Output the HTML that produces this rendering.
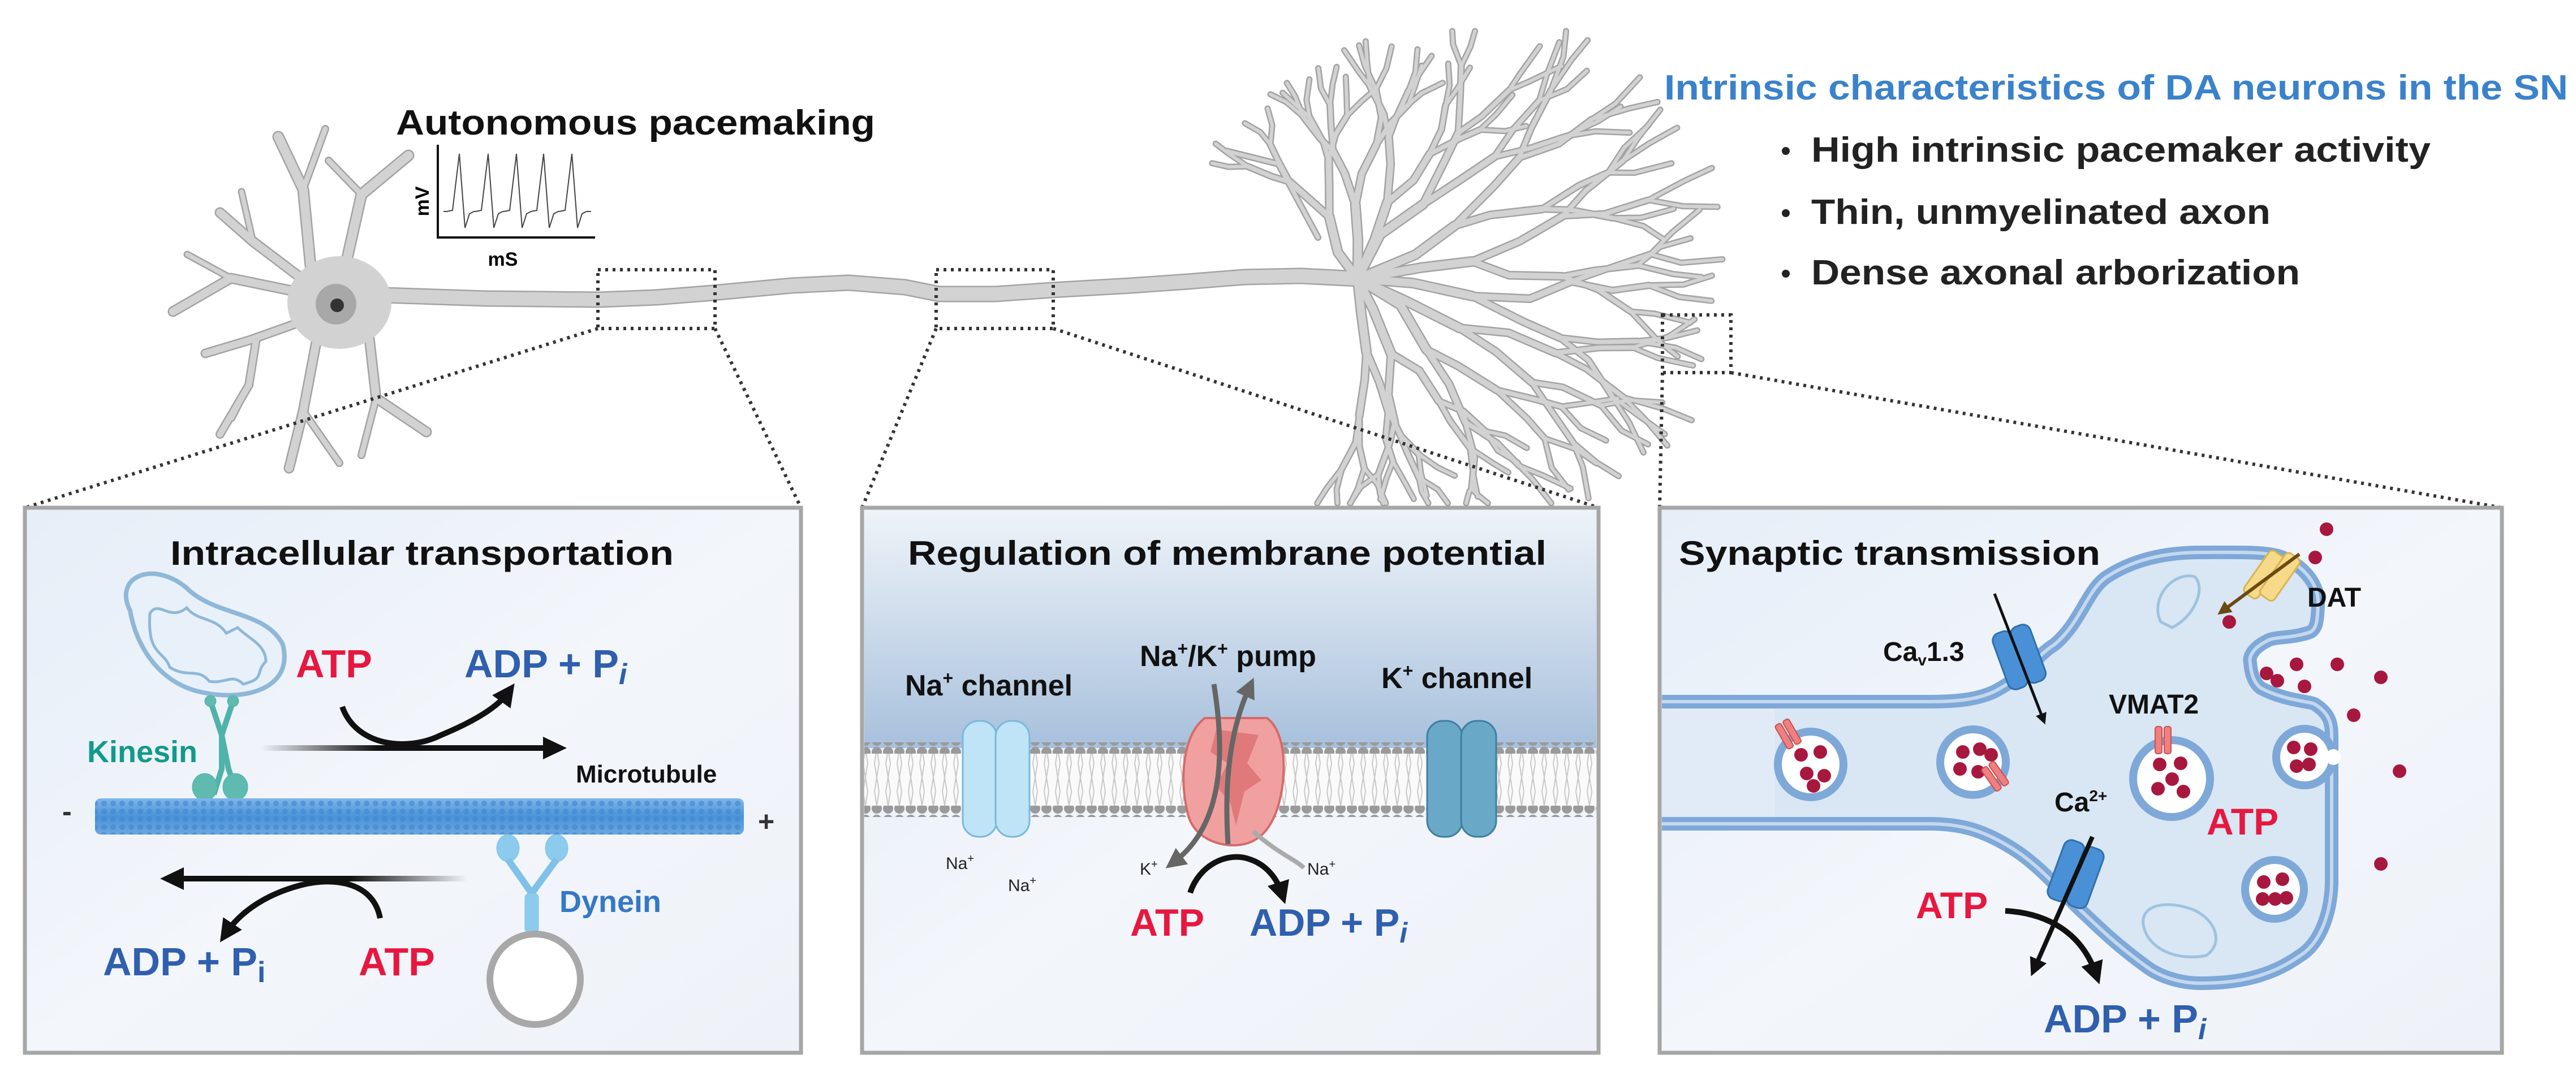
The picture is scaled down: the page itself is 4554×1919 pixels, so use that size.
<!DOCTYPE html>
<html><head><meta charset="utf-8"><style>
html,body{margin:0;padding:0;background:#fff;}
svg{display:block;}
text{font-family:"Liberation Sans",sans-serif;font-weight:bold;}
</style></head><body>
<svg id="s" xmlns="http://www.w3.org/2000/svg" width="4554" height="1919" viewBox="0 0 4554 1919">
<defs>
<linearGradient id="pbg" x1="0" y1="0" x2="1" y2="1"><stop offset="0" stop-color="#e6eef8"/><stop offset="0.5" stop-color="#f3f6fb"/><stop offset="1" stop-color="#eef2f8"/></linearGradient>
<linearGradient id="mtop" x1="0" y1="0" x2="0" y2="1"><stop offset="0" stop-color="#eef3f9"/><stop offset="0.35" stop-color="#d6e2ef"/><stop offset="1" stop-color="#a7c0dc"/></linearGradient>
<linearGradient id="mt" x1="0" y1="0" x2="0" y2="1"><stop offset="0" stop-color="#7fb6ea"/><stop offset="0.5" stop-color="#4b93d8"/><stop offset="1" stop-color="#6aa7e0"/></linearGradient>
<pattern id="mtp" width="16" height="14" patternUnits="userSpaceOnUse"><circle cx="8" cy="7" r="5" fill="#3f86cf" opacity="0.6"/></pattern>
<pattern id="heads" width="20" height="20" patternUnits="userSpaceOnUse"><circle cx="10" cy="10" r="9" fill="#9a9a9a"/></pattern>
<pattern id="tails" width="20" height="50" patternUnits="userSpaceOnUse"><path d="M6 0 L10 25 L6 50 M14 0 L10 25 L14 50" stroke="#c8c8c8" stroke-width="2" fill="none"/></pattern>
<marker id="ah" viewBox="0 0 10 10" refX="5" refY="5" markerWidth="4" markerHeight="4" orient="auto"><path d="M0 0 L10 5 L0 10 z" fill="#111"/></marker>
<marker id="ahg" viewBox="0 0 10 10" refX="5" refY="5" markerWidth="4" markerHeight="4" orient="auto"><path d="M0 0 L10 5 L0 10 z" fill="#666"/></marker>
<marker id="ahb" viewBox="0 0 10 10" refX="5" refY="5" markerWidth="4" markerHeight="4" orient="auto"><path d="M0 0 L10 5 L0 10 z" fill="#6b4a10"/></marker>
<linearGradient id="fadeR" gradientUnits="userSpaceOnUse" x1="461" y1="0" x2="975" y2="0"><stop offset="0" stop-color="#111" stop-opacity="0"/><stop offset="0.4" stop-color="#111"/></linearGradient>
<linearGradient id="fadeL" gradientUnits="userSpaceOnUse" x1="826" y1="0" x2="310" y2="0"><stop offset="0" stop-color="#111" stop-opacity="0"/><stop offset="0.4" stop-color="#111"/></linearGradient>
</defs>

<g id="neuOut" fill="none" stroke="#a3a3a3" stroke-linecap="round" stroke-linejoin="round"></g>
<g id="neuIn" fill="none" stroke="#d2d2d2" stroke-linecap="round" stroke-linejoin="round"></g>
<ellipse cx="600" cy="535" rx="92" ry="82" fill="#d2d2d2"/>
<ellipse cx="594" cy="538" rx="36" ry="36" fill="#a8a8a8"/>
<circle cx="596" cy="540" r="12" fill="#333"/>

<g stroke="#111" fill="none">
<path d="M774 256 L774 420 L1052 420" stroke-width="4"/>
<path id="tr" stroke-width="2" stroke="#444" d=""/>
</g>
<text x="0" y="0" font-size="34" transform="translate(758,356) rotate(-90)" text-anchor="middle">mV</text>
<text x="889" y="470" font-size="34" text-anchor="middle">mS</text>
<text x="700" y="238" font-size="62" textLength="847" lengthAdjust="spacingAndGlyphs" fill="#111">Autonomous pacemaking</text>

<text x="2942" y="176" font-size="62" fill="#3a82cc" textLength="1598" lengthAdjust="spacingAndGlyphs">Intrinsic characteristics of DA neurons in the SN</text>
<g fill="#222" font-size="62">
<circle cx="3157" cy="267" r="7" fill="#222"/><text x="3202" y="286" textLength="1095" lengthAdjust="spacingAndGlyphs">High intrinsic pacemaker activity</text>
<circle cx="3157" cy="377" r="7" fill="#222"/><text x="3202" y="396" textLength="812" lengthAdjust="spacingAndGlyphs">Thin, unmyelinated axon</text>
<circle cx="3157" cy="484" r="7" fill="#222"/><text x="3202" y="503" textLength="864" lengthAdjust="spacingAndGlyphs">Dense axonal arborization</text>
</g>

<g fill="none" stroke="#333" stroke-width="6" stroke-dasharray="5 8">
<rect x="1057" y="477" width="207" height="104"/>
<rect x="1655" y="477" width="207" height="104"/>
<rect x="2939" y="557" width="121" height="102"/>
<path d="M1057 581 L44 898 M1264 581 L1416 898 M1655 581 L1524 898 M1862 581 L2826 898 M2939 659 L2934 898 M3060 659 L4423 898"/>
</g>

<rect x="44" y="898" width="1372" height="964" fill="url(#pbg)" stroke="#a6a6a6" stroke-width="7"/>
<rect x="1524" y="898" width="1302" height="964" fill="url(#pbg)" stroke="#a6a6a6" stroke-width="7"/>
<rect x="2934" y="898" width="1489" height="964" fill="url(#pbg)" stroke="#a6a6a6" stroke-width="7"/>

<!-- LEFT PANEL -->
<text x="301" y="999" font-size="60" fill="#111" textLength="890" lengthAdjust="spacingAndGlyphs">Intracellular transportation</text>
<path d="M230 1080 C200 1020 270 990 330 1040 C380 1090 470 1080 500 1140 C520 1220 430 1240 360 1225 C280 1210 240 1140 230 1080 Z" fill="#e8f1fa" stroke="#8fb8d8" stroke-width="8"/>
<path d="M265 1085 C280 1060 300 1100 330 1075 C350 1100 380 1090 400 1120 L420 1110 C440 1130 470 1140 470 1170 C450 1190 470 1200 430 1210 C410 1190 400 1210 370 1205 C350 1180 330 1200 300 1180 C290 1150 260 1160 265 1085 Z" fill="none" stroke="#8fb8d8" stroke-width="5"/>
<g stroke="#4fb3a9" fill="#5fbab0">
<path d="M372 1240 L392 1300 L392 1360 L378 1405 M412 1240 L392 1300 L404 1360 L420 1405" stroke-width="10" fill="none"/>
<circle cx="372" cy="1240" r="10"/><circle cx="412" cy="1240" r="10"/>
<ellipse cx="362" cy="1392" rx="22" ry="24"/><ellipse cx="416" cy="1392" rx="22" ry="24"/>
</g>
<text x="154" y="1348" font-size="54" fill="#129a8c">Kinesin</text>
<text x="523" y="1198" font-size="70" fill="#e8173f">ATP</text>
<text x="821" y="1198" font-size="70" fill="#2f5fae">ADP + P<tspan font-size="52" font-style="italic" dy="12">i</tspan></text>
<path d="M461 1323 L975 1323" stroke="url(#fadeR)" stroke-width="10" fill="none"/>
<path d="M960 1303 L1002 1323 L960 1343 Z" fill="#111"/>
<path d="M605 1250 C630 1320 720 1330 780 1300 C840 1275 880 1250 898 1225" stroke="#111" stroke-width="10" fill="none" marker-end="url(#ah)"/>
<text x="1018" y="1384" font-size="44" fill="#111">Microtubule</text>
<rect x="168" y="1412" width="1147" height="64" rx="10" fill="url(#mt)"/>
<rect x="168" y="1412" width="1147" height="64" rx="10" fill="url(#mtp)"/>
<text x="110" y="1452" font-size="50" fill="#333">-</text>
<text x="1340" y="1470" font-size="50" fill="#333">+</text>
<g stroke="#7fc1e8" fill="#8ccbee">
<ellipse cx="898" cy="1500" rx="20" ry="24"/><ellipse cx="984" cy="1500" rx="20" ry="24"/>
<path d="M898 1520 L940 1580 L984 1520 M940 1580 L940 1650" stroke-width="12" fill="none"/>
<rect x="928" y="1580" width="24" height="70" rx="8"/>
</g>
<circle cx="946" cy="1732" r="80" fill="#fff" stroke="#a8a8a8" stroke-width="12"/>
<text x="989" y="1613" font-size="54" fill="#3478c6">Dynein</text>
<path d="M826 1554 L320 1554" stroke="url(#fadeL)" stroke-width="10" fill="none"/>
<path d="M325 1534 L283 1554 L325 1574 Z" fill="#111"/>
<path d="M672 1624 C660 1560 590 1550 530 1566 C460 1585 420 1620 400 1650" stroke="#111" stroke-width="10" fill="none" marker-end="url(#ah)"/>
<text x="182" y="1725" font-size="70" fill="#2f5fae">ADP + P<tspan font-size="52" dy="12">i</tspan></text>
<text x="634" y="1725" font-size="70" fill="#e8173f">ATP</text>

<!-- MIDDLE PANEL -->
<rect x="1528" y="902" width="1294" height="421" fill="url(#mtop)"/>
<text x="1605" y="999" font-size="60" fill="#111" textLength="1129" lengthAdjust="spacingAndGlyphs">Regulation of membrane potential</text>
<rect x="1528" y="1333" width="1294" height="92" fill="#fafafa"/>
<rect x="1528" y="1333" width="1294" height="92" fill="url(#tails)"/>
<rect x="1528" y="1313" width="1294" height="20" fill="url(#heads)"/>
<rect x="1528" y="1425" width="1294" height="20" fill="url(#heads)"/>
<g stroke="#7ab8dc" stroke-width="3" fill="#bfe3f7">
<rect x="1702" y="1275" width="60" height="205" rx="28"/><rect x="1760" y="1275" width="60" height="205" rx="28"/>
</g>
<g stroke="#3d7f9f" stroke-width="3" fill="#6aa8c8">
<rect x="2523" y="1275" width="62" height="205" rx="28"/><rect x="2583" y="1275" width="62" height="205" rx="28"/>
</g>
<path d="M2130 1270 L2240 1270 C2280 1300 2275 1400 2250 1450 C2230 1490 2200 1495 2180 1495 C2150 1495 2110 1480 2100 1440 C2085 1380 2090 1300 2130 1270 Z" fill="#f1a0a0" stroke="#d46a6a" stroke-width="4"/>
<path d="M2150 1290 L2140 1330 L2170 1350 L2150 1390 L2175 1420 L2185 1460 L2200 1400 L2230 1380 L2205 1350 L2225 1300 Z" fill="#e07a7a"/>
<path d="M2171 1493 C2165 1400 2170 1300 2209 1215" stroke="#666" stroke-width="9" fill="none" marker-end="url(#ahg)"/>
<path d="M2146 1210 C2160 1300 2175 1450 2075 1525" stroke="#666" stroke-width="9" fill="none" marker-end="url(#ahg)"/>
<path d="M2215 1470 C2260 1510 2290 1520 2305 1535" stroke="#aaa" stroke-width="8" fill="none"/>
<path d="M2104 1579 C2120 1530 2170 1505 2210 1520 C2240 1530 2258 1555 2266 1580" stroke="#111" stroke-width="10" fill="none" marker-end="url(#ah)"/>
<text x="1600" y="1230" font-size="52" fill="#111">Na<tspan font-size="32" dy="-20">+</tspan><tspan dy="20"> channel</tspan></text>
<text x="2015" y="1178" font-size="52" fill="#111">Na<tspan font-size="32" dy="-20">+</tspan><tspan dy="20">/K</tspan><tspan font-size="32" dy="-20">+</tspan><tspan dy="20"> pump</tspan></text>
<text x="2442" y="1217" font-size="52" fill="#111">K<tspan font-size="32" dy="-20">+</tspan><tspan dy="20"> channel</tspan></text>
<g font-size="30" fill="#222">
<text x="1672" y="1537" style="font-weight:normal">Na<tspan font-size="20" dy="-12">+</tspan></text>
<text x="1782" y="1576" style="font-weight:normal">Na<tspan font-size="20" dy="-12">+</tspan></text>
<text x="2015" y="1547" style="font-weight:normal">K<tspan font-size="20" dy="-12">+</tspan></text>
<text x="2311" y="1547" style="font-weight:normal">Na<tspan font-size="20" dy="-12">+</tspan></text>
</g>
<text x="1998" y="1655" font-size="68" fill="#e8173f">ATP</text>
<text x="2209" y="1655" font-size="68" fill="#2f5fae">ADP + P<tspan font-size="50" font-style="italic" dy="12">i</tspan></text>

<!-- RIGHT PANEL -->
<text x="2968" y="999" font-size="60" fill="#111" textLength="745" lengthAdjust="spacingAndGlyphs">Synaptic transmission</text>
<path d="M2938 1241 L3411 1241 C3470 1241 3500 1235 3526 1223 C3580 1195 3600 1160 3632 1140 C3680 1100 3690 1040 3728 1018 C3780 985 3840 977 3891 977 C3960 977 4010 975 4036 986 C4080 1005 4100 1040 4098 1069 C4097 1100 4095 1112 4084 1118 C4050 1130 4020 1125 4007 1134 C3985 1145 3975 1160 3978 1172 C3980 1200 3990 1212 3997 1217 C4040 1240 4085 1240 4093 1246 C4115 1260 4122 1275 4122 1300 L4122 1563 C4120 1620 4100 1670 4065 1691 C4010 1730 3950 1739 3891 1739 C3850 1739 3815 1725 3795 1710 C3740 1670 3710 1640 3670 1602 C3620 1550 3590 1520 3555 1499 C3500 1465 3460 1457 3411 1457 L2938 1457" fill="#d9e6f4" stroke="#7ea8d8" stroke-width="24"/>
<path d="M2938 1241 L3411 1241 C3470 1241 3500 1235 3526 1223 C3580 1195 3600 1160 3632 1140 C3680 1100 3690 1040 3728 1018 C3780 985 3840 977 3891 977 C3960 977 4010 975 4036 986 C4080 1005 4100 1040 4098 1069 C4097 1100 4095 1112 4084 1118 C4050 1130 4020 1125 4007 1134 C3985 1145 3975 1160 3978 1172 C3980 1200 3990 1212 3997 1217 C4040 1240 4085 1240 4093 1246 C4115 1260 4122 1275 4122 1300 L4122 1563 C4120 1620 4100 1670 4065 1691 C4010 1730 3950 1739 3891 1739 C3850 1739 3815 1725 3795 1710 C3740 1670 3710 1640 3670 1602 C3620 1550 3590 1520 3555 1499 C3500 1465 3460 1457 3411 1457 L2938 1457" fill="none" stroke="#c4d8ee" stroke-width="6"/>
<rect x="2938" y="1254" width="200" height="190" fill="#e6eef8" opacity="0.6"/>
<g fill="#fff" stroke="#7ea8d8" stroke-width="14">
<circle cx="3201" cy="1352" r="58"/><circle cx="3488" cy="1348" r="58"/><circle cx="3839" cy="1377" r="68"/><circle cx="4074" cy="1339" r="50"/><circle cx="4021" cy="1573" r="52"/>
</g>
<circle cx="4125" cy="1339" r="14" fill="#fff"/>
<g fill="#a8183e" id="dots"></g>
<g fill="#f08080" stroke="#c85050" stroke-width="2">
<rect x="3810" y="1285" width="12" height="48" rx="4"/><rect x="3826" y="1285" width="12" height="48" rx="4"/>
<rect x="3148" y="1275" width="12" height="48" rx="4" transform="rotate(-30 3160 1300)"/><rect x="3164" y="1275" width="12" height="48" rx="4" transform="rotate(-30 3160 1300)"/>
<rect x="3514" y="1350" width="12" height="48" rx="4" transform="rotate(-35 3526 1375)"/><rect x="3530" y="1350" width="12" height="48" rx="4" transform="rotate(-35 3526 1375)"/>
</g>
<g fill="#4a90d6" stroke="#2f6fb0" stroke-width="3">
<rect x="3536" y="1110" width="36" height="105" rx="14" transform="rotate(-20 3569 1166)"/><rect x="3570" y="1110" width="36" height="105" rx="14" transform="rotate(-20 3569 1166)"/>
<rect x="3632" y="1490" width="38" height="110" rx="14" transform="rotate(20 3666 1547)"/><rect x="3668" y="1490" width="38" height="110" rx="14" transform="rotate(20 3666 1547)"/>
</g>
<path d="M3526 1050 L3612 1272" stroke="#111" stroke-width="5" fill="none" marker-end="url(#ah)"/>
<path d="M3699 1480 L3597 1712" stroke="#111" stroke-width="8" fill="none" marker-end="url(#ah)"/>
<path d="M3545 1611 C3620 1615 3680 1650 3705 1722" stroke="#111" stroke-width="10" fill="none" marker-end="url(#ah)"/>
<g fill="none" stroke="#9ec3e0" stroke-width="5">
<path d="M3820 1100 C3800 1060 3840 1010 3880 1020 C3900 1040 3880 1090 3840 1110 Z"/>
<path d="M3790 1640 C3780 1600 3830 1590 3880 1610 C3920 1630 3930 1670 3900 1690 C3850 1700 3800 1680 3790 1640 Z"/>
</g>
<rect x="3985" y="975" width="30" height="90" rx="8" fill="#f7d98a" stroke="#d9b450" stroke-width="3" transform="rotate(35 4007 1021)"/>
<rect x="4015" y="975" width="30" height="90" rx="8" fill="#f7d98a" stroke="#d9b450" stroke-width="3" transform="rotate(35 4030 1021)"/>
<path d="M4065 980 L3930 1080" stroke="#6b4a10" stroke-width="6" fill="none" marker-end="url(#ahb)"/>
<text x="4079" y="1073" font-size="48" fill="#111">DAT</text>
<text x="3329" y="1169" font-size="48" fill="#111">Ca<tspan font-size="28" dy="8">v</tspan><tspan dy="-8">1.3</tspan></text>
<text x="3728" y="1262" font-size="48" fill="#111">VMAT2</text>
<text x="3632" y="1435" font-size="48" fill="#111">Ca<tspan font-size="28" dy="-18">2+</tspan></text>
<text x="3901" y="1476" font-size="66" fill="#e8173f">ATP</text>
<text x="3387" y="1624" font-size="66" fill="#e8173f">ATP</text>
<text x="3613" y="1826" font-size="70" fill="#2f5fae">ADP + P<tspan font-size="52" font-style="italic" dy="12">i</tspan></text>
</svg>
<script>
(function(){
var NS="http://www.w3.org/2000/svg";
var out=document.getElementById('neuOut'),inn=document.getElementById('neuIn');
function br(pts,w){
 var d="M"+pts.map(function(p){return p[0].toFixed(1)+" "+p[1].toFixed(1);}).join(" L");
 var a=document.createElementNS(NS,'path');a.setAttribute('d',d);a.setAttribute('stroke-width',w+5);out.appendChild(a);
 var b=document.createElementNS(NS,'path');b.setAttribute('d',d);b.setAttribute('stroke-width',w);inn.appendChild(b);
}
var D=[[[[549,470],[536,335],[492,242]],16],[[[536,335],[575,228]],9],
[[[613,460],[639,344],[722,275]],16],[[[639,344],[581,284]],9],
[[[530,490],[447,427],[389,376]],14],[[[447,427],[427,339]],8],
[[[520,515],[408,492],[306,551]],14],[[[408,492],[331,450]],8],
[[[530,570],[440,602],[363,625]],12],[[[453,600],[440,681],[389,768]],11],[[[440,681],[410,740]],7],
[[[562,590],[536,727],[511,828]],14],[[[536,727],[600,819]],9],
[[[652,590],[665,704],[754,764]],14],[[[665,704],[639,805]],9]];
D.forEach(function(x){br(x[0],x[1]);});
br([[680,522],[860,528],[1060,530],[1160,526],[1260,518],[1400,505],[1500,500],[1600,508],[1660,520],[1760,520],[1860,513],[2000,505],[2100,498],[2200,490],[2300,488],[2400,493]],24);
var s=12345;function r(){s=(s*16807)%2147483647;return s/2147483647;}
function grow(x,y,a,len,w,dep){
 var ex=x+Math.cos(a)*len, ey=y+Math.sin(a)*len;
 if(ey<55)ey=55; if(ey>890)ey=890; if(ex>3045)ex=3045;
 var mx=(x+ex)/2+(r()-0.5)*len*0.2, my=(y+ey)/2+(r()-0.5)*len*0.2;
 br([[x,y],[mx,my],[ex,ey]],w);
 if(dep>0){
  var sp=0.18+r()*0.25;
  grow(ex,ey,a-sp,len*(0.78+r()*0.1),Math.max(w*0.75,6),dep-1);
  grow(ex,ey,a+sp,len*(0.78+r()*0.1),Math.max(w*0.75,6),dep-1);
 }
}
var T=[[-2.0,120,3],[-1.6,130,3],[-1.2,145,3],[-0.85,175,3],[-0.5,195,3],[-0.15,205,3],[0.15,205,3],[0.45,200,3],[0.8,175,3],[1.15,145,3],[1.45,130,3]];
T.forEach(function(t){grow(2400,493,t[0],t[1],14,t[2]);});
br([[2330,420],[2260,290],[2168,267]],7);
var px=[812,863,913,961,1011],d="M784 374";
px.forEach(function(p){d+=" L"+(p-22)+" 374 L"+(p-12)+" 372 L"+p+" 272 L"+(p+10)+" 403 L"+(p+18)+" 378 L"+(p+26)+" 374";});
d+=" L1045 374";document.getElementById('tr').setAttribute('d',d);
var g=document.getElementById('dots');
var P=[[4113,936],[4093,986],[3941,1100],[4007,1191],[4026,1204],[4060,1175],[4074,1214],[4132,1175],[4209,1198],[4161,1265],[4242,1364],[4209,1528],
[3184,1335],[3218,1330],[3194,1368],[3225,1372],[3206,1390],[3470,1330],[3500,1325],[3465,1360],[3497,1365],[3520,1335],[3818,1352],[3855,1350],[3840,1378],[3815,1395],[3860,1400],[4055,1322],[4085,1325],[4060,1355],[4082,1352],[4002,1560],[4035,1555],[4000,1590],[4022,1590],[4042,1588]];
P.forEach(function(p){var c=document.createElementNS(NS,'circle');c.setAttribute('cx',p[0]);c.setAttribute('cy',p[1]);c.setAttribute('r',12);g.appendChild(c);});
})();
</script>
</body></html>
